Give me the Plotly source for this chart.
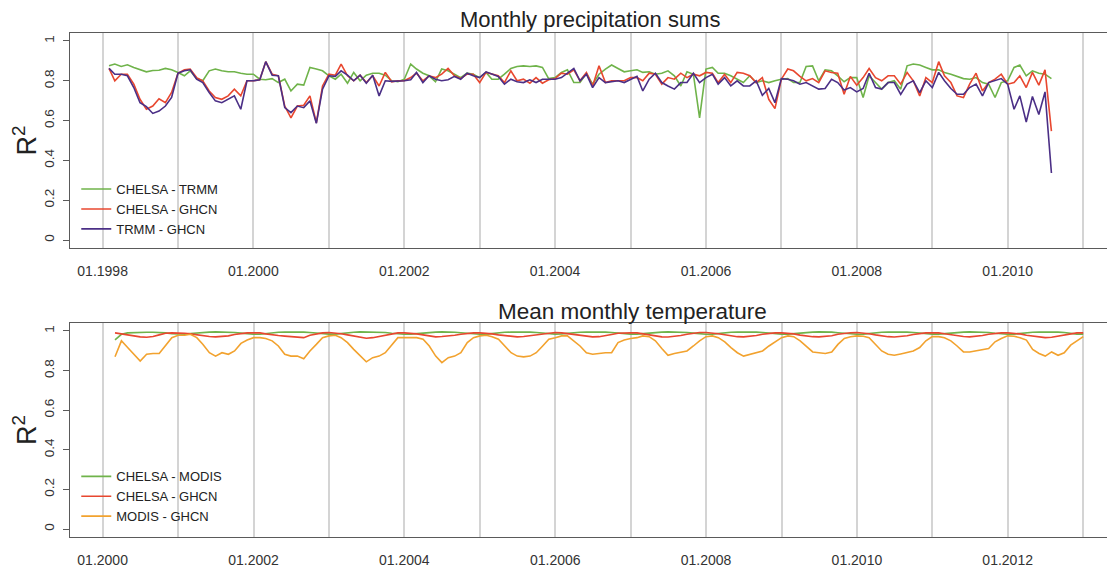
import pandas as pd
import plotly.graph_objects as go

# ---------------- data: monthly precipitation (Feb 1998 - Aug 2010) ----------------
precip_start = "1998-02-01"
chelsa_trmm = [
    0.875, 0.884, 0.872, 0.880, 0.867, 0.855, 0.845, 0.852, 0.853, 0.862, 0.855,
    0.842, 0.825, 0.850, 0.811, 0.800, 0.850, 0.859, 0.850, 0.845, 0.845, 0.838, 0.833,
    0.833, 0.808, 0.805, 0.811, 0.791, 0.808, 0.749, 0.783, 0.778, 0.867, 0.859, 0.850,
    0.825, 0.808, 0.833, 0.788, 0.842, 0.800, 0.828, 0.838, 0.838, 0.828, 0.800, 0.795,
    0.808, 0.884, 0.859, 0.838, 0.825, 0.795, 0.859, 0.850, 0.833, 0.816, 0.838, 0.833,
    0.816, 0.842, 0.808, 0.808, 0.833, 0.862, 0.872, 0.875, 0.872, 0.875, 0.867, 0.811,
    0.816, 0.842, 0.855, 0.791, 0.791, 0.838, 0.783, 0.833, 0.859, 0.879, 0.862, 0.845,
    0.850, 0.855, 0.842, 0.845, 0.833, 0.838, 0.850, 0.825, 0.774, 0.845, 0.833, 0.614,
    0.859, 0.867, 0.838, 0.838, 0.825, 0.808, 0.791, 0.825, 0.791, 0.800, 0.791, 0.800,
    0.808, 0.811, 0.791, 0.791, 0.872, 0.875, 0.800, 0.855, 0.850, 0.825, 0.795, 0.816,
    0.816, 0.716, 0.825, 0.791, 0.758, 0.791, 0.800, 0.758, 0.875, 0.884, 0.879, 0.867,
    0.855, 0.855, 0.842, 0.833, 0.822, 0.811, 0.808, 0.816, 0.791, 0.783, 0.716, 0.791,
    0.800, 0.867, 0.879, 0.825, 0.850, 0.838, 0.833, 0.811,
]
chelsa_ghcn_p = [
    0.862, 0.800, 0.833, 0.833, 0.783, 0.707, 0.657, 0.673, 0.710, 0.690, 0.741,
    0.838, 0.855, 0.859, 0.816, 0.800, 0.749, 0.716, 0.707, 0.724, 0.758, 0.724, 0.800,
    0.800, 0.805, 0.896, 0.833, 0.825, 0.673, 0.614, 0.673, 0.677, 0.724, 0.589, 0.774,
    0.833, 0.828, 0.884, 0.825, 0.800, 0.828, 0.791, 0.825, 0.774, 0.842, 0.795, 0.800,
    0.800, 0.816, 0.838, 0.800, 0.825, 0.816, 0.833, 0.862, 0.825, 0.811, 0.833, 0.833,
    0.791, 0.842, 0.833, 0.825, 0.791, 0.850, 0.800, 0.808, 0.788, 0.816, 0.788, 0.805,
    0.811, 0.838, 0.833, 0.855, 0.800, 0.842, 0.774, 0.875, 0.791, 0.800, 0.800, 0.800,
    0.816, 0.816, 0.800, 0.838, 0.833, 0.783, 0.816, 0.808, 0.838, 0.816, 0.833, 0.825,
    0.842, 0.838, 0.791, 0.833, 0.791, 0.842, 0.838, 0.825, 0.791, 0.816, 0.707, 0.660,
    0.808, 0.859, 0.850, 0.822, 0.800, 0.811, 0.791, 0.850, 0.842, 0.838, 0.732, 0.822,
    0.778, 0.816, 0.862, 0.816, 0.800, 0.825, 0.825, 0.783, 0.842, 0.800, 0.724, 0.816,
    0.791, 0.896, 0.825, 0.791, 0.724, 0.716, 0.783, 0.838, 0.749, 0.791, 0.808, 0.833,
    0.783, 0.791, 0.825, 0.766, 0.842, 0.778, 0.855, 0.547,
]
trmm_ghcn = [
    0.862, 0.833, 0.833, 0.825, 0.766, 0.690, 0.670, 0.636, 0.648, 0.673, 0.716,
    0.838, 0.850, 0.855, 0.808, 0.791, 0.741, 0.699, 0.690, 0.707, 0.724, 0.657, 0.800,
    0.800, 0.805, 0.896, 0.828, 0.825, 0.665, 0.640, 0.673, 0.665, 0.699, 0.586, 0.758,
    0.825, 0.822, 0.850, 0.828, 0.800, 0.828, 0.788, 0.828, 0.724, 0.800, 0.797, 0.797,
    0.800, 0.805, 0.842, 0.791, 0.825, 0.808, 0.800, 0.805, 0.822, 0.808, 0.838, 0.825,
    0.816, 0.845, 0.833, 0.822, 0.783, 0.808, 0.795, 0.791, 0.805, 0.791, 0.808, 0.808,
    0.808, 0.816, 0.838, 0.862, 0.800, 0.833, 0.766, 0.816, 0.791, 0.795, 0.800, 0.791,
    0.808, 0.822, 0.749, 0.808, 0.838, 0.791, 0.774, 0.758, 0.791, 0.791, 0.838, 0.791,
    0.816, 0.833, 0.783, 0.816, 0.774, 0.800, 0.774, 0.774, 0.800, 0.727, 0.761, 0.690,
    0.811, 0.808, 0.800, 0.783, 0.791, 0.774, 0.758, 0.761, 0.808, 0.791, 0.754, 0.766,
    0.744, 0.761, 0.838, 0.766, 0.758, 0.791, 0.791, 0.732, 0.783, 0.800, 0.741, 0.800,
    0.766, 0.842, 0.800, 0.761, 0.732, 0.732, 0.766, 0.783, 0.724, 0.791, 0.800, 0.811,
    0.783, 0.657, 0.724, 0.593, 0.721, 0.631, 0.744, 0.337,
]

# ---------------- data: mean monthly temperature (Mar 2000 - Jan 2013) ----------------
temp_start = "2000-03-01"
chelsa_modis = [
    0.955, 0.983, 0.990, 0.992, 0.993, 0.993, 0.993, 0.992, 0.990, 0.986,
    0.984, 0.984, 0.987, 0.990, 0.993, 0.994, 0.995, 0.995, 0.994, 0.992, 0.989, 0.985,
    0.983, 0.983, 0.987, 0.991, 0.993, 0.994, 0.995, 0.995, 0.994, 0.992, 0.988, 0.985,
    0.984, 0.984, 0.988, 0.991, 0.993, 0.995, 0.995, 0.995, 0.994, 0.992, 0.988, 0.985,
    0.983, 0.984, 0.987, 0.990, 0.993, 0.994, 0.995, 0.995, 0.993, 0.991, 0.988, 0.984,
    0.983, 0.984, 0.988, 0.991, 0.993, 0.994, 0.995, 0.995, 0.994, 0.992, 0.989, 0.985,
    0.984, 0.985, 0.988, 0.991, 0.993, 0.994, 0.995, 0.995, 0.994, 0.992, 0.988, 0.985,
    0.984, 0.984, 0.987, 0.990, 0.993, 0.994, 0.995, 0.995, 0.994, 0.992, 0.989, 0.985,
    0.983, 0.984, 0.988, 0.991, 0.993, 0.994, 0.995, 0.994, 0.994, 0.992, 0.988, 0.985,
    0.984, 0.984, 0.987, 0.991, 0.993, 0.994, 0.995, 0.995, 0.994, 0.991, 0.988, 0.985,
    0.983, 0.984, 0.988, 0.990, 0.993, 0.994, 0.995, 0.995, 0.994, 0.992, 0.989, 0.985,
    0.984, 0.984, 0.987, 0.991, 0.993, 0.994, 0.995, 0.995, 0.993, 0.992, 0.988, 0.985,
    0.983, 0.984, 0.988, 0.991, 0.993, 0.994, 0.995, 0.995, 0.994, 0.992, 0.988, 0.984,
    0.984,
]
chelsa_ghcn_t = [
    0.990, 0.985, 0.978, 0.972, 0.970, 0.968, 0.972, 0.980, 0.988, 0.990,
    0.990, 0.988, 0.985, 0.980, 0.975, 0.972, 0.970, 0.972, 0.975, 0.982, 0.988, 0.990,
    0.990, 0.990, 0.985, 0.980, 0.977, 0.974, 0.972, 0.968, 0.966, 0.978, 0.986, 0.990,
    0.992, 0.990, 0.986, 0.980, 0.974, 0.968, 0.963, 0.966, 0.972, 0.980, 0.987, 0.990,
    0.990, 0.988, 0.985, 0.980, 0.975, 0.970, 0.972, 0.974, 0.978, 0.983, 0.988, 0.990,
    0.990, 0.988, 0.985, 0.980, 0.976, 0.972, 0.970, 0.972, 0.976, 0.982, 0.987, 0.990,
    0.992, 0.990, 0.986, 0.980, 0.975, 0.972, 0.970, 0.971, 0.975, 0.982, 0.988, 0.990,
    0.990, 0.990, 0.985, 0.980, 0.974, 0.970, 0.969, 0.972, 0.977, 0.983, 0.988, 0.992,
    0.992, 0.990, 0.986, 0.981, 0.975, 0.971, 0.970, 0.973, 0.977, 0.983, 0.988, 0.990,
    0.990, 0.989, 0.985, 0.979, 0.974, 0.971, 0.970, 0.972, 0.976, 0.983, 0.988, 0.991,
    0.992, 0.990, 0.986, 0.980, 0.975, 0.971, 0.969, 0.971, 0.976, 0.982, 0.988, 0.990,
    0.990, 0.990, 0.986, 0.980, 0.975, 0.972, 0.970, 0.972, 0.977, 0.983, 0.988, 0.990,
    0.990, 0.988, 0.985, 0.978, 0.973, 0.968, 0.966, 0.968, 0.974, 0.982, 0.988, 0.990,
    0.990,
]
modis_ghcn = [
    0.870, 0.950, 0.916, 0.882, 0.848, 0.882, 0.886, 0.886, 0.924, 0.966,
    0.978, 0.978, 0.983, 0.966, 0.932, 0.890, 0.873, 0.890, 0.882, 0.899, 0.937, 0.954,
    0.966, 0.966, 0.962, 0.950, 0.924, 0.882, 0.873, 0.873, 0.860, 0.899, 0.932, 0.966,
    0.975, 0.978, 0.966, 0.941, 0.907, 0.873, 0.844, 0.865, 0.873, 0.890, 0.928, 0.966,
    0.966, 0.966, 0.966, 0.958, 0.924, 0.873, 0.840, 0.865, 0.873, 0.890, 0.941, 0.966,
    0.975, 0.978, 0.971, 0.958, 0.924, 0.890, 0.873, 0.869, 0.873, 0.890, 0.924, 0.958,
    0.966, 0.975, 0.975, 0.950, 0.924, 0.890, 0.882, 0.886, 0.890, 0.890, 0.941, 0.954,
    0.962, 0.966, 0.975, 0.971, 0.950, 0.911, 0.877, 0.886, 0.894, 0.899, 0.924, 0.950,
    0.971, 0.975, 0.966, 0.945, 0.916, 0.890, 0.873, 0.882, 0.890, 0.899, 0.924, 0.945,
    0.966, 0.975, 0.971, 0.950, 0.924, 0.894, 0.890, 0.886, 0.894, 0.932, 0.962, 0.971,
    0.975, 0.973, 0.966, 0.932, 0.899, 0.882, 0.877, 0.884, 0.890, 0.899, 0.916, 0.950,
    0.971, 0.971, 0.966, 0.950, 0.924, 0.894, 0.894, 0.899, 0.903, 0.911, 0.945, 0.962,
    0.975, 0.973, 0.966, 0.954, 0.907, 0.886, 0.873, 0.894, 0.877, 0.890, 0.928, 0.950,
    0.971,
]

top_first_year = "1998-01-01"
bottom_first_year = "2000-01-01"
y_ticks = [0, 0.2, 0.4, 0.6, 0.8, 1]
y_ticktext = ["0", "0.2", "0.4", "0.6", "0.8", "1"]

top_title = "Monthly precipitation sums"
bottom_title = "Mean monthly temperature"

# ---------------- styling ----------------
GREEN = "#6fb34a"
RED = "#e8472f"
PURPLE = "#4b2f86"
ORANGE = "#f2a22e"
FONT = "Liberation Sans, Arial, sans-serif"
GRID = "#d4d4d4"

x_top = pd.date_range(precip_start, periods=len(chelsa_trmm), freq="MS")
x_bot = pd.date_range(temp_start, periods=len(modis_ghcn), freq="MS")

fig = go.Figure()
for name, vals, col in [("CHELSA - TRMM", chelsa_trmm, GREEN),
                        ("CHELSA - GHCN", chelsa_ghcn_p, RED),
                        ("TRMM - GHCN", trmm_ghcn, PURPLE)]:
    fig.add_trace(go.Scatter(x=x_top, y=vals, mode="lines", name=name,
                             line=dict(color=col, width=1.6),
                             xaxis="x", yaxis="y", legend="legend"))
for name, vals, col in [("CHELSA - MODIS", chelsa_modis, GREEN),
                        ("CHELSA - GHCN", chelsa_ghcn_t, RED),
                        ("MODIS - GHCN", modis_ghcn, ORANGE)]:
    fig.add_trace(go.Scatter(x=x_bot, y=vals, mode="lines", name=name,
                             line=dict(color=col, width=1.6),
                             xaxis="x2", yaxis="y2", legend="legend2"))


def xaxis_cfg(first, rng, anchor):
    return dict(
        domain=[0, 1], anchor=anchor, type="date", range=rng,
        tickmode="linear", tick0=first, dtick="M24", tickformat="%m.%Y",
        showgrid=True, gridcolor=GRID, gridwidth=1.5,
        minor=dict(tick0=first, dtick="M12", showgrid=True, gridcolor=GRID,
                   gridwidth=1.5, ticks=""),
        showline=True, mirror=True, linecolor="#5a5a5a", linewidth=1.2,
        ticks="", zeroline=False, ticklabelstandoff=10,
        tickfont=dict(family=FONT, size=14, color="#333333"),
    )


def yaxis_cfg(domain, anchor):
    return dict(
        domain=domain, anchor=anchor, range=[-0.04, 1.04],
        tickvals=y_ticks, ticktext=y_ticktext, tickangle=-90,
        ticks="outside", ticklen=6, tickcolor="#5a5a5a",
        showgrid=False, zeroline=False, ticklabelstandoff=4,
        showline=True, mirror=True, linecolor="#5a5a5a", linewidth=1.2,
        tickfont=dict(family=FONT, size=13.5, color="#333333"),
        title=dict(text="R<sup>2</sup>", font=dict(family=FONT, size=27, color="#222222"),
                   standoff=1),
    )


legend_common = dict(
    font=dict(family=FONT, size=13, color="#222222"),
    bgcolor="rgba(0,0,0,0)", borderwidth=0, itemwidth=30,
    xanchor="left", yanchor="top", tracegroupgap=0,
)

# the page adds an 8px body margin, so the figure is sized / offset to compensate
fig.update_layout(
    width=1107, height=561,
    margin=dict(l=62, r=1, t=25, b=32, autoexpand=False),
    paper_bgcolor="white", plot_bgcolor="white",
    showlegend=True,
    xaxis=xaxis_cfg(top_first_year, ["1997-07-27", "2011-05-31"], "y"),
    yaxis=yaxis_cfg([0.5734, 1.0], "x"),
    xaxis2=xaxis_cfg(bottom_first_year, ["1999-07-27", "2013-05-30"], "y2"),
    yaxis2=yaxis_cfg([0.0, 0.4246], "x2"),
    legend=dict(x=0.006, y=0.72, **legend_common),
    legend2=dict(x=0.006, y=0.150, **legend_common),
    annotations=[
        dict(text=top_title, xref="paper", yref="paper", x=(590 - 70) / 1044, y=1.027,
             xanchor="center", yanchor="middle", showarrow=False,
             font=dict(family=FONT, size=22, color="#222222")),
        dict(text=bottom_title, xref="paper", yref="paper", x=(632 - 70) / 1044, y=0.4484,
             xanchor="center", yanchor="middle", showarrow=False,
             font=dict(family=FONT, size=22.5, color="#222222")),
    ],
)

fig.write_html("out.html")
